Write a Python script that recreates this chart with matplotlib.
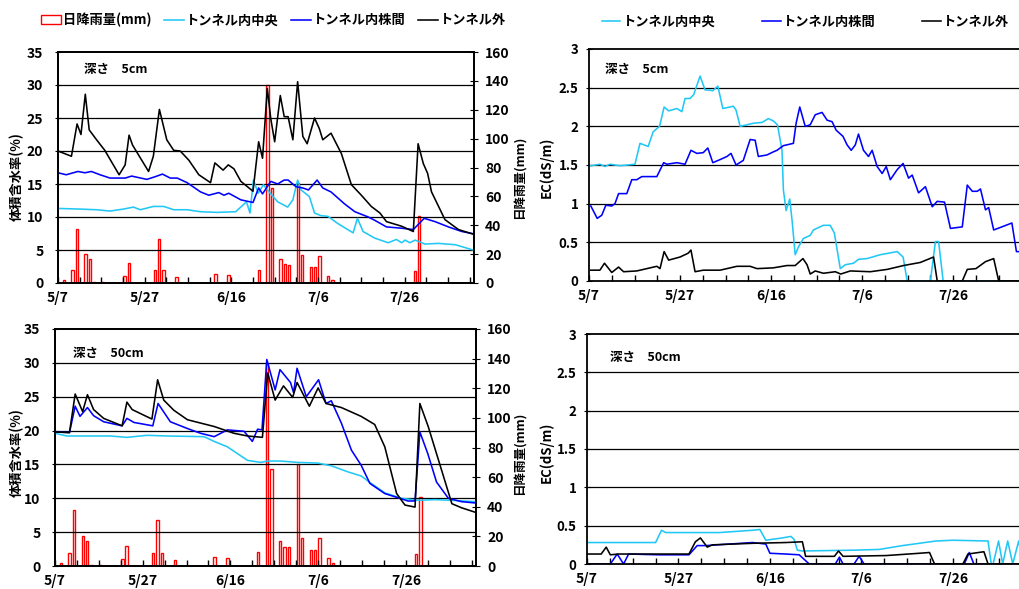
import numpy as np
import matplotlib
matplotlib.use('Agg')
import matplotlib.pyplot as plt
from matplotlib.patches import Patch
from matplotlib.lines import Line2D

plt.rcParams['font.family'] = ['Noto Sans CJK JP', 'DejaVu Sans']
plt.rcParams['font.weight'] = 'bold'

# colours
C_MID = '#22c8f5'   # トンネル内中央
C_ROW = '#0000ff'   # トンネル内株間
C_OUT = '#000000'   # トンネル外

# days counted from 5/7
tick_days = [0, 20, 40, 60, 80]
tick_labels = ['5/7', '5/27', '6/16', '7/6', '7/26']

# daily rainfall (mm)
rain_day = [1, 3, 4, 6, 7, 8, 10, 15, 16, 22, 23, 24, 27, 36, 39, 46, 48, 49,
            51, 52, 53, 55, 56, 58, 59, 60, 62, 63, 82, 83]
rain_mm = [1.8, 8.7, 37.5, 20.0, 16.6, 1.0, 0.5, 4.6, 13.8, 8.7, 30.8, 8.7, 4.1,
           6.4, 5.5, 9.2, 137, 65.6, 16.8, 13.1, 12.7, 69.0, 19.1, 11.0, 11.0,
           18.9, 5.1, 2.3, 8.1, 46.5]

# ---- soil moisture, 5 cm (%)
vw5_out_d = [0, 3.1, 4.4, 5.3, 6.3, 7.2, 8.9, 10.8, 14.1, 15.5, 16.4, 17.2, 20.9,
             22.0, 23.4, 25.1, 26.7, 28.2, 30.2, 32.5, 35.2, 36.2, 38.1, 39.3,
             40.6, 42.2, 45.0, 46.3, 47.2, 48.3, 49.1, 50.0, 51.3, 52.2, 53.1,
             54.2, 55.3, 56.5, 57.5, 59.2, 60.3, 61.1, 63.0, 65.4, 67.7, 70.0,
             72.3, 74.3, 75.8, 79.3, 82.0, 83.1, 84.3, 85.3, 86.2, 89.3, 92.4, 96.3]
vw5_out = [20.0, 19.2, 24.1, 22.5, 28.6, 23.2, 21.7, 20.1, 16.4, 17.9, 22.4, 20.9,
           16.9, 19.2, 26.3, 21.7, 20.1, 20.0, 18.6, 16.4, 15.2, 18.2, 17.1, 17.9,
           17.3, 15.4, 13.9, 21.4, 18.9, 29.5, 24.9, 21.4, 28.4, 25.2, 25.2, 21.7,
           30.5, 22.2, 21.1, 25.0, 23.4, 21.7, 22.7, 19.6, 14.9, 13.3, 11.6, 10.6,
           9.3, 8.6, 7.8, 21.1, 18.1, 16.6, 13.8, 9.6, 8.1, 7.3]
vw5_row_d = [0, 1.9, 4.6, 6.2, 7.7, 9.7, 12.0, 15.5, 17.0, 20.5, 22.4, 24.1, 25.9,
             27.5, 29.8, 32.9, 34.8, 37.1, 38.3, 39.4, 42.2, 45.0, 46.3, 47.2,
             49.1, 50.7, 52.2, 53.1, 54.9, 56.5, 57.8, 59.8, 61.1, 63.0, 66.1,
             68.5, 71.6, 73.1, 75.8, 79.3, 82.0, 84.5, 87.0, 90.1, 93.2, 96.3]
vw5_row = [16.7, 16.4, 16.9, 16.7, 16.9, 16.4, 15.9, 15.9, 16.2, 15.7, 16.1, 16.5,
           15.9, 15.9, 15.2, 13.8, 13.3, 13.7, 13.3, 13.6, 12.6, 12.2, 14.4, 13.5,
           15.4, 15.0, 15.6, 15.6, 14.6, 14.4, 14.1, 15.6, 14.4, 13.8, 12.0, 10.8,
           10.0, 9.5, 8.5, 8.3, 8.1, 9.8, 9.3, 8.5, 7.8, 7.4]
vw5_mid_d = [0, 5.0, 8.9, 12.0, 15.1, 17.4, 19.0, 22.0, 24.4, 26.7, 29.8, 32.9,
             36.8, 41.0, 43.5, 44.3, 45.1, 46.2, 47.4, 48.3, 50.7, 53.0, 54.2,
             55.3, 56.1, 58.0, 59.2, 60.7, 62.3, 64.6, 68.1, 69.1, 70.4, 73.1,
             76.2, 78.1, 79.3, 80.1, 81.2, 82.4, 84.7, 87.8, 91.7, 96.3]
vw5_mid = [11.3, 11.2, 11.1, 10.9, 11.2, 11.5, 11.1, 11.6, 11.6, 11.1, 11.1, 10.8,
           10.7, 10.8, 12.3, 10.6, 15.6, 13.6, 14.9, 14.1, 12.3, 11.5, 12.6, 15.6,
           14.1, 13.1, 10.6, 10.2, 10.1, 9.0, 7.6, 9.8, 7.8, 6.8, 6.1, 6.6, 6.1,
           6.5, 6.1, 6.5, 5.9, 6.0, 5.8, 4.9]

# ---- soil moisture, 50 cm (%)
vw50_out_d = [0, 3.3, 4.6, 6.3, 7.4, 8.8, 11.1, 15.3, 16.4, 17.6, 22.1, 23.4,
              24.8, 27.1, 30.2, 36.3, 40.8, 43.9, 47.3, 48.5, 50.2, 52.1, 54.2,
              55.2, 58.0, 60.0, 61.8, 65.3, 69.8, 72.9, 75.2, 77.9, 79.8, 82.1,
              83.2, 85.1, 87.8, 90.5, 92.7, 96.0]
vw50_out = [19.8, 19.7, 25.4, 22.8, 25.3, 23.1, 21.8, 20.7, 24.2, 23.1, 21.7, 27.5,
            24.5, 23.0, 21.6, 20.6, 19.6, 19.2, 19.0, 28.5, 24.5, 26.6, 24.9, 27.1,
            23.6, 26.3, 24.0, 23.4, 22.1, 20.9, 17.6, 10.7, 9.0, 8.7, 24.0, 20.6,
            14.9, 9.2, 8.6, 7.9]
vw50_row_d = [0, 3.3, 4.6, 5.7, 7.4, 8.8, 11.1, 15.3, 16.4, 18.0, 22.3, 23.5, 26.3,
              30.2, 33.2, 36.3, 39.3, 43.1, 45.0, 46.2, 47.2, 48.3, 50.2, 51.3,
              53.7, 54.4, 55.2, 57.3, 60.1, 61.8, 63.0, 65.3, 67.6, 69.8, 71.8,
              75.2, 78.6, 80.5, 82.1, 83.2, 85.0, 87.0, 89.7, 92.7, 96.0]
vw50_row = [19.8, 19.7, 23.6, 22.1, 23.4, 22.2, 21.3, 20.7, 21.8, 21.2, 20.7, 24.0,
            21.3, 20.3, 19.6, 19.1, 20.1, 19.9, 18.4, 20.2, 20.1, 30.5, 26.0, 29.0,
            27.1, 25.6, 29.2, 25.0, 27.5, 24.0, 24.4, 21.1, 17.1, 14.9, 12.2, 10.7,
            10.0, 9.6, 9.6, 19.8, 16.6, 12.4, 10.0, 9.5, 9.3]
vw50_mid_d = [0, 2.7, 7.3, 12.6, 16.4, 21.0, 25.6, 34.0, 36.3, 39.3, 41.6, 43.9,
              46.9, 48.5, 51.5, 55.3, 59.9, 63.0, 66.8, 69.8, 72.1, 75.2, 79.0,
              82.8, 86.6, 90.5, 96.0]
vw50_mid = [19.6, 19.2, 19.2, 19.2, 19.0, 19.3, 19.2, 19.1, 18.4, 17.6, 16.6, 15.6,
            15.3, 15.5, 15.5, 15.3, 15.2, 14.8, 13.9, 13.3, 12.2, 10.8, 10.0, 9.7,
            9.8, 9.7, 9.5]

# ---- EC, 5 cm (dS/m)
ec5_mid_d = [0.4, 2.4, 3.5, 4.6, 6.8, 10.1, 11.2, 13.0, 14.1, 15.5, 16.5, 17.5,
             19.3, 20.4, 21.1, 22.2, 23.0, 24.4, 25.5, 26.3, 27.2, 28.3, 29.4,
             31.7, 32.3, 33.2, 34.7, 36.1, 38.0, 39.4, 40.5, 41.4, 42.4, 42.7,
             43.3, 44.1, 44.6, 45.3, 46.0, 47.1, 48.6, 49.3, 51.5, 53.0, 53.9,
             55.2, 56.3, 58.1, 59.2, 61.1, 64.0, 67.7, 69.0, 69.9, 75.0, 76.1,
             76.8, 77.8, 96.0]
ec5_mid = [1.49, 1.51, 1.48, 1.51, 1.49, 1.51, 1.78, 1.74, 1.93, 2.00, 2.25, 2.20,
           2.23, 2.19, 2.36, 2.36, 2.41, 2.65, 2.47, 2.47, 2.46, 2.52, 2.23, 2.26,
           2.21, 2.00, 2.02, 2.04, 2.05, 2.10, 2.07, 2.02, 1.69, 1.18, 0.91, 1.06,
           0.79, 0.34, 0.44, 0.55, 0.59, 0.66, 0.72, 0.72, 0.62, 0.16, 0.21, 0.23,
           0.28, 0.29, 0.34, 0.38, 0.31, 0.0, 0.0, 0.51, 0.51, 0.0, 0.0]
ec5_row_d = [0.4, 1.8, 2.8, 3.7, 5.0, 5.7, 6.5, 8.3, 9.4, 10.5, 11.6, 14.9, 16.4,
             17.1, 19.3, 21.1, 22.4, 23.7, 25.1, 26.1, 27.2, 28.8, 30.3, 31.2,
             32.3, 33.9, 35.4, 36.5, 37.2, 39.1, 40.5, 41.3, 42.7, 44.9, 45.5,
             46.3, 47.5, 48.6, 49.7, 51.2, 52.3, 53.4, 54.3, 55.8, 56.7, 57.6,
             58.5, 59.2, 60.3, 61.4, 62.2, 63.3, 64.4, 65.3, 66.2, 67.7, 69.0,
             70.2, 71.0, 72.4, 73.9, 75.4, 76.5, 78.1, 79.4, 82.0, 83.1, 84.2,
             85.3, 86.0, 87.1, 87.8, 88.9, 90.7, 92.9, 93.9, 96.0]
ec5_row = [0.97, 0.81, 0.85, 0.98, 0.97, 1.00, 1.13, 1.13, 1.31, 1.31, 1.35, 1.35,
           1.53, 1.51, 1.53, 1.51, 1.69, 1.65, 1.66, 1.72, 1.53, 1.57, 1.61, 1.65,
           1.50, 1.56, 1.83, 1.82, 1.61, 1.63, 1.67, 1.69, 1.75, 1.78, 2.04, 2.25,
           2.00, 2.02, 2.15, 2.18, 2.08, 2.06, 1.95, 1.87, 1.76, 1.69, 1.76, 1.90,
           1.69, 1.61, 1.69, 1.48, 1.39, 1.48, 1.31, 1.44, 1.52, 1.33, 1.37, 1.14,
           1.22, 0.96, 1.03, 1.02, 0.68, 0.70, 1.24, 1.16, 1.16, 1.19, 0.92, 0.95,
           0.66, 0.70, 0.75, 0.38, 0.38]
ec5_out_d = [0.4, 2.4, 3.4, 5.0, 6.5, 7.6, 10.5, 14.9, 15.6, 16.5, 17.5, 20.0,
             21.8, 22.4, 23.3, 25.1, 28.8, 32.5, 35.4, 36.9, 40.5, 43.5, 45.3,
             47.0, 47.9, 48.6, 49.7, 51.5, 54.1, 55.3, 57.4, 61.8, 65.5, 69.1,
             72.8, 75.7, 76.5, 82.0, 83.1, 85.0, 87.1, 88.9, 90.0, 96.0]
ec5_out = [0.14, 0.14, 0.23, 0.11, 0.18, 0.12, 0.13, 0.19, 0.16, 0.38, 0.27, 0.31,
           0.36, 0.40, 0.12, 0.14, 0.14, 0.19, 0.19, 0.16, 0.17, 0.20, 0.20, 0.29,
           0.21, 0.09, 0.13, 0.10, 0.12, 0.09, 0.13, 0.12, 0.15, 0.20, 0.24, 0.31,
           0.0, 0.0, 0.15, 0.16, 0.25, 0.29, 0.0, 0.0]

# ---- EC, 50 cm (dS/m)
ec50_mid_d = [0, 15.0, 16.3, 17.2, 28.9, 36.2, 37.8, 39.1, 42.7, 44.6, 45.3, 46.0,
              47.1, 58.1, 63.9, 69.0, 76.3, 80.0, 87.7, 88.4, 88.8, 90.0, 90.9,
              92.0, 93.1, 94.4, 95.4]
ec50_mid = [0.28, 0.28, 0.44, 0.41, 0.41, 0.44, 0.45, 0.31, 0.34, 0.36, 0.32, 0.18,
            0.17, 0.18, 0.19, 0.24, 0.30, 0.31, 0.30, 0.0, 0.0, 0.30, 0.0, 0.30,
            0.0, 0.30, 0.0]
ec50_out_d = [0, 3.1, 4.2, 5.1, 6.9, 15.7, 22.3, 23.7, 24.8, 26.3, 27.4, 36.2,
              43.5, 47.1, 47.8, 49.3, 54.1, 55.0, 56.0, 65.4, 72.7, 74.9, 76.0,
              82.2, 83.3, 86.8, 87.7, 96.0]
ec50_out = [0.13, 0.13, 0.22, 0.12, 0.13, 0.13, 0.13, 0.29, 0.34, 0.22, 0.25, 0.27,
            0.28, 0.29, 0.10, 0.10, 0.10, 0.17, 0.10, 0.11, 0.14, 0.15, 0.0, 0.0,
            0.13, 0.16, 0.0, 0.0]
ec50_row_d = [0, 5.1, 6.6, 8.0, 9.1, 15.7, 22.3, 24.1, 26.0, 36.2, 39.1, 40.0,
              43.5, 46.4, 48.6, 54.3, 55.2, 56.0, 58.4, 59.5, 60.6, 82.5, 83.6,
              84.6, 96.0]
ec50_row = [0.0, 0.0, 0.13, 0.0, 0.13, 0.12, 0.12, 0.24, 0.24, 0.28, 0.26, 0.14,
            0.13, 0.12, 0.0, 0.0, 0.09, 0.0, 0.0, 0.10, 0.0, 0.0, 0.15, 0.0, 0.0]

W, H = 1020, 589
fig = plt.figure(figsize=(W / 100, H / 100), dpi=100)


def box(l, t, r, b):
    return [l / W, 1 - b / H, (r - l) / W, (b - t) / H]


def style_x(ax):
    ax.set_xlim(0, 96)
    ax.set_xticks(tick_days)
    ax.set_xticklabels(tick_labels)
    ax.set_xticks(np.arange(0, 96, 5), minor=True)
    ax.tick_params(axis='x', which='both', direction='in', length=4, width=1,
                   labelsize=10, pad=6)
    for s in ax.spines.values():
        s.set_linewidth(1.3)


def moisture_panel(rect, depth, series, label_xy):
    ax = fig.add_axes(box(*rect))
    ax2 = ax.twinx()
    ax2.bar(np.array(rain_day) + 0.35, rain_mm, width=0.55, facecolor='white',
            edgecolor='red', linewidth=1.0)
    ax2.set_ylim(0, 160)
    ax2.set_yticks(range(0, 161, 20))
    ax2.tick_params(axis='y', direction='inout', length=6, labelsize=10, pad=5)
    ax.set_zorder(ax2.get_zorder() + 1)
    ax.patch.set_visible(False)
    for d, v, c in series:
        ax.plot(d, v, color=c, lw=1.15)
    ax.set_ylim(0, 35)
    ax.set_yticks(range(0, 36, 5))
    ax.tick_params(axis='y', direction='inout', length=5, labelsize=10, pad=8)
    for g in range(5, 35, 5):
        ax.axhline(g, color='black', lw=0.9, zorder=0)
    style_x(ax)
    for s in ax2.spines.values():
        s.set_linewidth(1.3)
    fig.text(label_xy[0] / W, 1 - label_xy[1] / H, '深さ　' + depth,
             fontsize=9, ha='left', va='center')
    return ax, ax2


def ec_panel(rect, depth, series, label_xy):
    ax = fig.add_axes(box(*rect))
    for d, v, c in series:
        ax.plot(d, v, color=c, lw=1.15)
    ax.set_ylim(0, 3)
    ax.set_yticks(np.arange(0, 3.01, 0.5))
    ax.set_yticklabels(['0', '0.5', '1', '1.5', '2', '2.5', '3'])
    ax.tick_params(axis='y', direction='inout', length=5, labelsize=9.5, pad=5)
    for g in np.arange(0.5, 3, 0.5):
        ax.axhline(g, color='black', lw=0.9, zorder=0)
    style_x(ax)
    fig.text(label_xy[0] / W, 1 - label_xy[1] / H, '深さ　' + depth,
             fontsize=9, ha='left', va='center')
    return ax


ax_tl, _ = moisture_panel((58, 52, 474, 283), '5cm',
                          [(vw5_mid_d, vw5_mid, C_MID), (vw5_row_d, vw5_row, C_ROW),
                           (vw5_out_d, vw5_out, C_OUT)], (84, 69))
ax_bl, _ = moisture_panel((55, 329, 476, 566), '50cm',
                          [(vw50_mid_d, vw50_mid, C_MID), (vw50_row_d, vw50_row, C_ROW),
                           (vw50_out_d, vw50_out, C_OUT)], (73, 353))
ec_panel((589, 49, 1026, 281), '5cm',
         [(ec5_mid_d, ec5_mid, C_MID), (ec5_row_d, ec5_row, C_ROW),
          (ec5_out_d, ec5_out, C_OUT)], (605, 69))
ec_panel((587, 334, 1026, 564), '50cm',
         [(ec50_mid_d, ec50_mid, C_MID), (ec50_row_d, ec50_row, C_ROW),
          (ec50_out_d, ec50_out, C_OUT)], (610, 357))

# axis titles
for y in (177, 453):
    fig.text(17 / W, 1 - y / H, '体積含水率(%)', rotation=90, fontsize=9.5,
             ha='center', va='center')
    fig.text(520 / W, 1 - y / H, '日降雨量(mm)', rotation=90, fontsize=9,
             ha='center', va='center')
for y in (167, 452):
    fig.text(546 / W, 1 - y / H, 'EC(dS/m)', rotation=90, fontsize=9.5,
             ha='center', va='center')

# legends
h_rain = Patch(facecolor='white', edgecolor='red', linewidth=1.0)
h_mid = Line2D([], [], color=C_MID, lw=1.15)
h_row = Line2D([], [], color=C_ROW, lw=1.15)
h_out = Line2D([], [], color=C_OUT, lw=1.15)
fig.legend([h_rain, h_mid, h_row, h_out],
           ['日降雨量(mm)', 'トンネル内中央', 'トンネル内株間', 'トンネル外'],
           loc='center left', bbox_to_anchor=(41 / W, 1 - 20 / H), ncol=4,
           frameon=False, fontsize=9.5, handlelength=1.5, handletextpad=0.2,
           columnspacing=0.9, borderaxespad=0, borderpad=0)
fig.legend([h_mid, h_row, h_out],
           ['トンネル内中央', 'トンネル内株間', 'トンネル外'],
           loc='center left', bbox_to_anchor=(602 / W, 1 - 22 / H), ncol=3,
           frameon=False, fontsize=9.5, handlelength=1.4, handletextpad=0.2,
           columnspacing=3.5, borderaxespad=0, borderpad=0)

fig.savefig('out.png', dpi=100)
